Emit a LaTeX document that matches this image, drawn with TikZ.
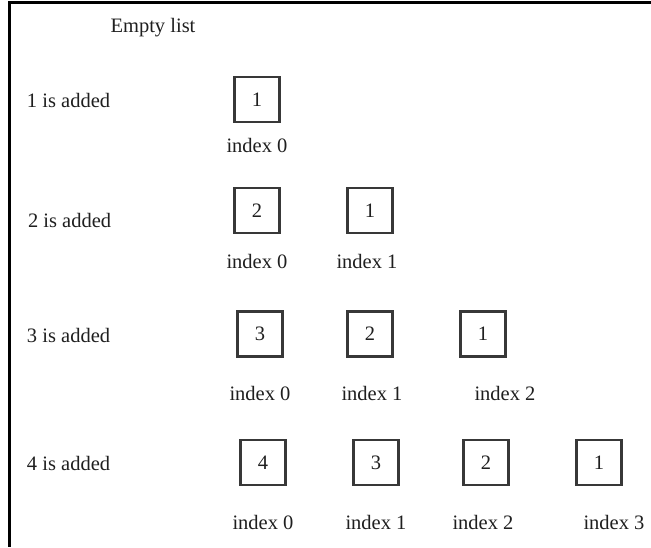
\documentclass[tikz,border=0pt]{standalone}
\usepackage{fontspec}
\setmainfont{Liberation Serif}
\begin{document}
\begin{tikzpicture}[x=1pt,y=-1pt,
  every node/.style={inner sep=0pt, outer sep=0pt, text=black!88, font=\fontsize{20.5}{23}\selectfont},
  cell/.style={draw=black!78, line width=2.2pt, minimum width=45pt, minimum height=45pt},
  caption/.style={anchor=center},
  rowlabel/.style={anchor=west},
  frame/.style={line width=3pt, draw=black}]
\useasboundingbox (0,0) rectangle (651,547);
% open frame: top and left edges only
\coordinate (ftl) at (9.5,2.5);
\coordinate (ftr) at (651,2.5);
\coordinate (fbl) at (9.5,547);
\draw[frame] (ftr) -- (ftl) -- (fbl);

\node (empty) at (153,28) {Empty list};

% row 1
\node[rowlabel] (l1) at (27,100) {1 is added};
\node[cell] (a1) at (257,99.5) {1};
\node[caption] (a1i) at (257,145) {index 0};

% row 2
\node[rowlabel] (l2) at (28,220) {2 is added};
\node[cell] (b2) at (257,210.5) {2};
\node[cell] (b1) at (370,210.5) {1};
\node[caption] (b2i) at (257,261) {index 0};
\node[caption] (b1i) at (367,261) {index 1};

% row 3
\node[rowlabel] (l3) at (27,335) {3 is added};
\node[cell] (c3) at (260,334) {3};
\node[cell] (c2) at (370,334) {2};
\node[cell] (c1) at (483,334) {1};
\node[caption] (c3i) at (260,393) {index 0};
\node[caption] (c2i) at (372,393) {index 1};
\node[caption] (c1i) at (505,393) {index 2};

% row 4
\node[rowlabel] (l4) at (27,463) {4 is added};
\node[cell] (d4) at (263,462.5) {4};
\node[cell] (d3) at (376,462.5) {3};
\node[cell] (d2) at (486,462.5) {2};
\node[cell] (d1) at (599,462.5) {1};
\node[caption] (d4i) at (263,522) {index 0};
\node[caption] (d3i) at (376,522) {index 1};
\node[caption] (d2i) at (483,522) {index 2};
\node[caption] (d1i) at (614,522) {index 3};
\end{tikzpicture}
\end{document}
